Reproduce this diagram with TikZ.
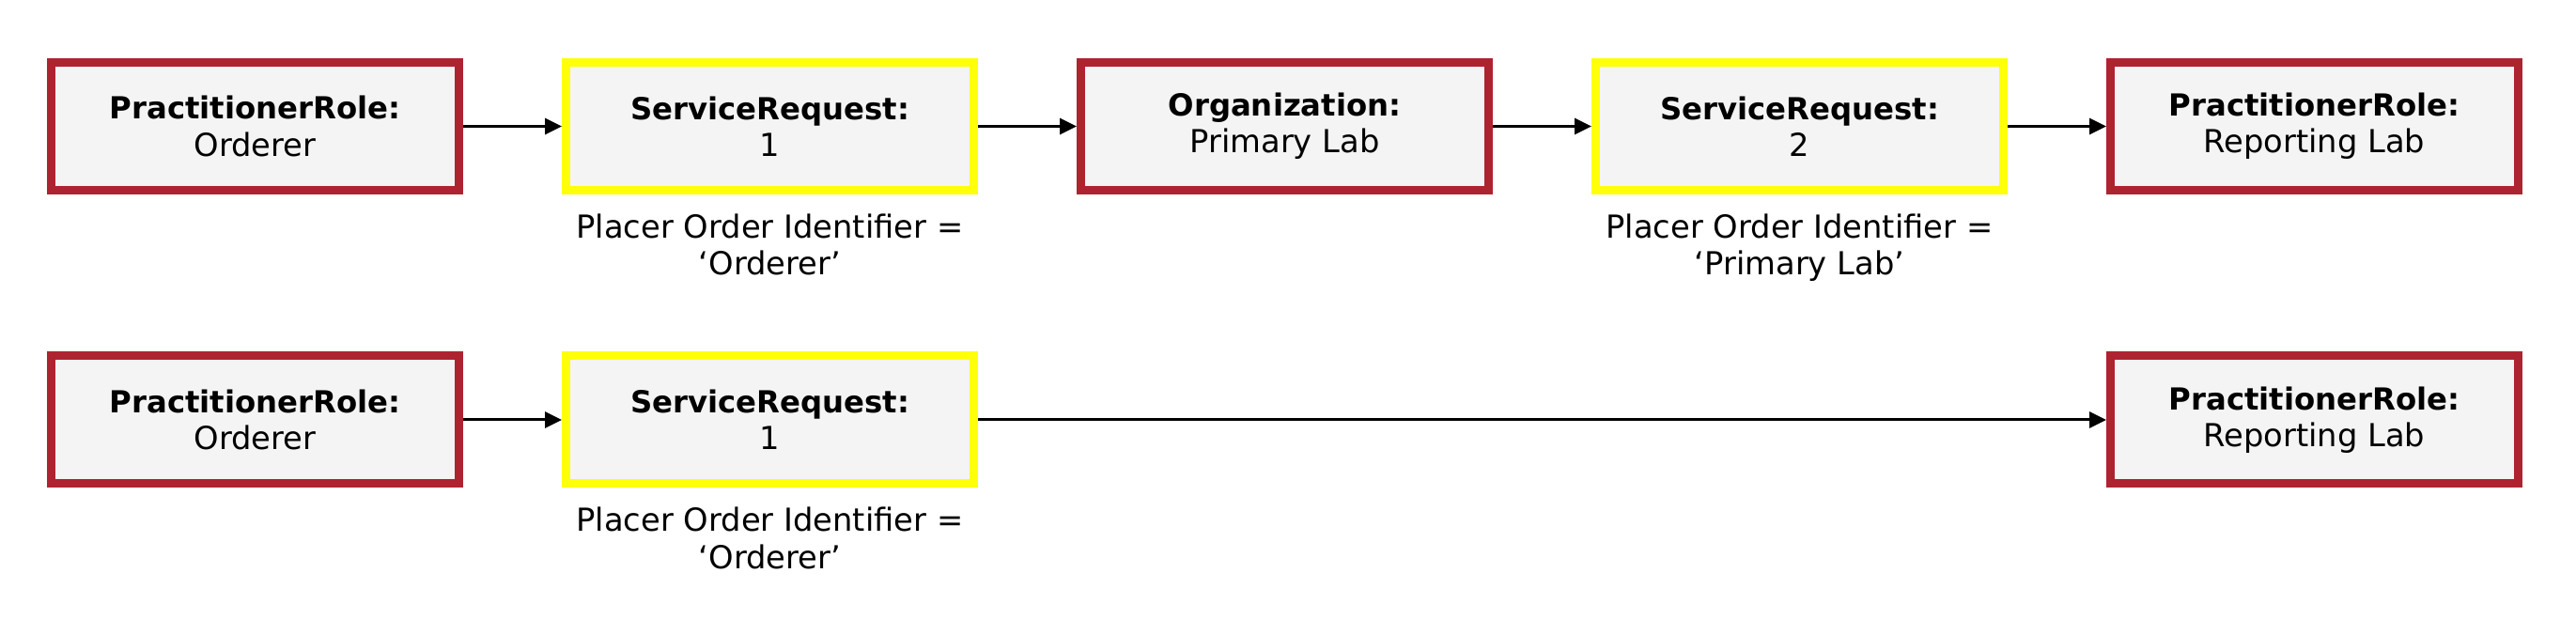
\documentclass[tikz,border=0pt]{standalone}
\usepackage{fontspec}
\setmainfont{DejaVu Sans}
\usepackage{xcolor}
\usepackage{tikz}
\usetikzlibrary{arrows.meta}
\usetikzlibrary{positioning}

\definecolor{rolered}{RGB}{174,35,48}
\definecolor{requestyellow}{RGB}{255,255,10}
\definecolor{boxgray}{RGB}{244,244,244}

\newcommand{\head}[1]{{\fontsize{9.2}{11.1}\selectfont\bfseries #1}}

\begin{document}
\begin{tikzpicture}[
    every node/.style={font=\fontsize{9.6}{11.2}\selectfont},
    entity/.style={draw, fill=boxgray, line width=0.09cm, align=center,
      minimum width=4.34cm, minimum height=1.36cm, inner sep=0},
    rolebox/.style={entity, draw=rolered},
    requestbox/.style={entity, draw=requestyellow},
    placer/.style={align=center, inner sep=0, below=0.2cm of #1},
    link/.style={-{Triangle[length=0.18cm, width=0.17cm]}, line width=0.03cm},
    node distance=1.05cm]

    \useasboundingbox (0, 0) rectangle (27.42, 6.75);

    % route via primary lab
    \node [rolebox] (ordererA) at (2.715, 5.405)
    {\head{PractitionerRole:}\\Orderer};
    \node [requestbox, right=of ordererA] (requestA)
    {\head{ServiceRequest:}\\1};
    \node [rolebox, right=of requestA] (primary)
    {\head{Organization:}\\Primary Lab};
    \node [requestbox, right=of primary] (requestB)
    {\head{ServiceRequest:}\\2};
    \node [rolebox, right=of requestB] (reportingA)
    {\head{PractitionerRole:}\\Reporting Lab};

    \node [placer=requestA] (placerA)
    {Placer Order Identifier =\\`Orderer'};
    \node [placer=requestB] (placerB)
    {Placer Order Identifier =\\`Primary Lab'};

    % straight to reporting lab
    \node [rolebox] (ordererB) at (2.715, 2.28)
    {\head{PractitionerRole:}\\Orderer};
    \node [requestbox, right=of ordererB] (requestC)
    {\head{ServiceRequest:}\\1};
    \node [rolebox] (reportingB) at (reportingA |- ordererB)
    {\head{PractitionerRole:}\\Reporting Lab};

    \node [placer=requestC] (placerC)
    {Placer Order Identifier =\\`Orderer'};

    \foreach \a/\b in {ordererA/requestA, requestA/primary, primary/requestB,
      requestB/reportingA, ordererB/requestC, requestC/reportingB} {
      \draw [link] (\a) -- (\b);
    }

  \end{tikzpicture}
\end{document}
